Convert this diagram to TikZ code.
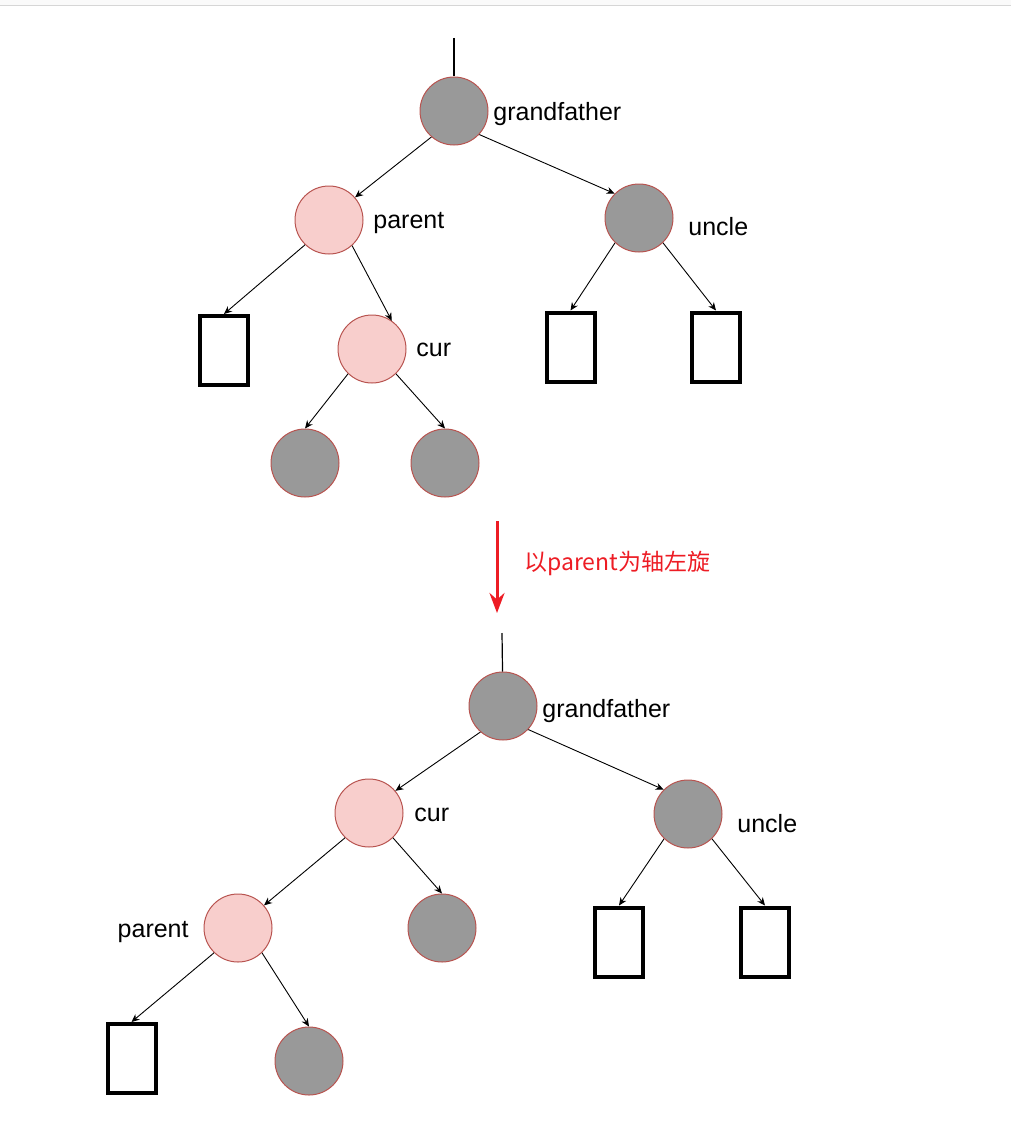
\documentclass[tikz,border=0pt]{standalone}
\usepackage{fontspec}
\setmainfont{Liberation Sans}
\newfontfamily\cjk{Noto Sans CJK SC}
\usetikzlibrary{arrows.meta}
\definecolor{nodeline}{RGB}{184,84,80}
\definecolor{blackfill}{RGB}{153,153,153}
\definecolor{redfill}{RGB}{248,206,204}
\definecolor{rotred}{RGB}{237,28,36}
\definecolor{topbar}{RGB}{250,250,250}
\definecolor{topline}{RGB}{214,214,214}
\tikzset{
    rbnode/.style={circle,draw=nodeline,line width=0.5pt,minimum size=34pt,inner sep=0pt},
    blacknode/.style={rbnode,fill=blackfill},
    rednode/.style={rbnode,fill=redfill},
    nilleaf/.style={rectangle,draw=black,line width=2pt,fill=white,minimum width=24pt,minimum height=34.5pt,inner sep=0pt},
    link/.style={-{Stealth[length=4pt,width=3.5pt]},line width=0.45pt},
    rootline/.style={line width=0.6pt},
    rotarrow/.style={-{Stealth[length=10pt,width=7.5pt]},line width=1.5pt,rotred},
    namelabel/.style={font=\fontsize{12.5}{15}\selectfont,inner sep=0pt}
}

\begin{document}
\begin{tikzpicture}[x=0.5pt,y=-0.5pt]
    \useasboundingbox (0,0) rectangle (1011,1129);
    % Page strip
    \fill[topbar] (0,0) rectangle (1011,5);
    \draw[topline,line width=0.6pt] (0,5.5) -- (1011,5.5);
    % Before rotation
    \coordinate (gfAtop) at (454,38);
    \node[blacknode] (gfA) at (454,111) {};
    \node[rednode] (parA) at (329,220) {};
    \node[blacknode] (uncA) at (639,218) {};
    \node[nilleaf] (nilA1) at (224,350.5) {};
    \node[rednode] (curA) at (372,349) {};
    \node[blacknode] (curAl) at (305,463) {};
    \node[blacknode] (curAr) at (445,463) {};
    \node[nilleaf] (nilA2) at (570.5,347) {};
    \node[nilleaf] (nilA3) at (716,347) {};
    \node[namelabel,anchor=west] (gfAname) at (493,114) {grandfather};
    \node[namelabel,anchor=west] (parAname) at (373,223) {parent};
    \node[namelabel,anchor=west] (uncAname) at (688,227) {uncle};
    \node[namelabel,anchor=west] (curAname) at (416,350) {cur};
    \draw[rootline] (gfAtop) -- (gfA);
    \draw[link] (gfA.-131) -- (parA.41);
    \draw[link] (gfA.-43) -- (uncA.135);
    \draw[link] (parA.-134) -- (nilA1.north);
    \draw[link] (parA.-48) -- (curA.55);
    \draw[link] (uncA.-134) -- (nilA2.north);
    \draw[link] (uncA.-46) -- (nilA3.north);
    \draw[link] (curA.-134) -- (curAl.north);
    \draw[link] (curA.-46) -- (curAr.north);
    % Rotation
    \coordinate (rotA) at (497,521);
    \coordinate (rotB) at (497,613);
    \draw[rotarrow] (rotA) -- (rotB);
    \node[anchor=west,inner sep=0pt,text=rotred,font=\cjk\fontsize{11.5}{13}\selectfont] (rotnote) at (524,563) {以parent为轴左旋};
    % After rotation
    \coordinate (gfBtop) at (502,633);
    \node[blacknode] (gfB) at (503,706) {};
    \node[rednode] (curB) at (369,813) {};
    \node[blacknode] (uncB) at (688,814) {};
    \node[rednode] (parB) at (238,928) {};
    \node[blacknode] (curBr) at (442,928) {};
    \node[nilleaf] (nilB2) at (619,942) {};
    \node[nilleaf] (nilB3) at (765,942) {};
    \node[nilleaf] (nilB1) at (131.5,1058.5) {};
    \node[blacknode] (parBr) at (309,1061) {};
    \node[namelabel,anchor=west] (gfBname) at (542,711) {grandfather};
    \node[namelabel,anchor=west] (curBname) at (414,815) {cur};
    \node[namelabel,anchor=west] (uncBname) at (737,824) {uncle};
    \node[namelabel,anchor=east] (parBname) at (189,932) {parent};
    \draw[rootline] (gfBtop) -- (gfB);
    \draw[link] (gfB.-131) -- (curB.40);
    \draw[link] (gfB.-43) -- (uncB.135);
    \draw[link] (curB.-134) -- (parB.41);
    \draw[link] (curB.-46) -- (curBr.north);
    \draw[link] (uncB.-134) -- (nilB2.north);
    \draw[link] (uncB.-46) -- (nilB3.north);
    \draw[link] (parB.-134) -- (nilB1.north);
    \draw[link] (parB.-46) -- (parBr.north);
\end{tikzpicture}
\end{document}
